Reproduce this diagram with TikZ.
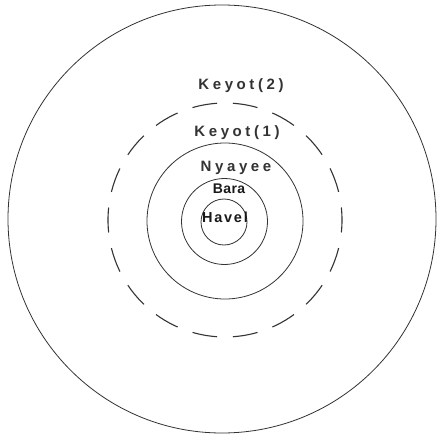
\documentclass[tikz,border=0pt]{standalone}
\usepackage{fontspec}
\setmainfont{Liberation Sans}
\newfontfamily\widefont[LetterSpace=24]{Liberation Sans}
\newfontfamily\midfont[LetterSpace=12]{Liberation Sans}
\newfontfamily\tightfont[LetterSpace=3]{Liberation Sans}
\begin{document}
\begin{tikzpicture}[x=1pt,y=-1pt,
  ring/.style={draw=black!80, line width=0.8pt},
  dring/.style={draw=black!80, line width=1.1pt, dash pattern=on 25pt off 15.84pt, dash phase=12.5pt},
  lbl/.style={text=black!80, inner sep=0pt},
  lblwide/.style={lbl, font=\widefont\fontsize{15}{17}\selectfont\bfseries},
  lblmid/.style={lbl, text=black!90, font=\midfont\fontsize{14.5}{17}\selectfont\bfseries},
  lbltight/.style={lbl, text=black!90, font=\tightfont\fontsize{14}{17}\selectfont\bfseries}]
\useasboundingbox (0,0) rectangle (438,438);
\fill[white] (0,0) rectangle (438,438);
\draw[ring] (222,219) circle (214);
\draw[dring] (225,220) circle (117);
\draw[ring] (225,221) circle (78);
\draw[ring] (224.5,221.5) circle (43);
\draw[ring] (224,222) circle (23);
\node[lblwide] (k2) at (241,86) {Keyot(2)};
\node[lblwide] (k1) at (237,133) {Keyot(1)};
\node[lblwide] (ny) at (236,168) {Nyayee};
\node[lbltight] (ba) at (229,189) {Bara};
\node[lblmid] (ha) at (225,217) {Havel};
\end{tikzpicture}
\end{document}
